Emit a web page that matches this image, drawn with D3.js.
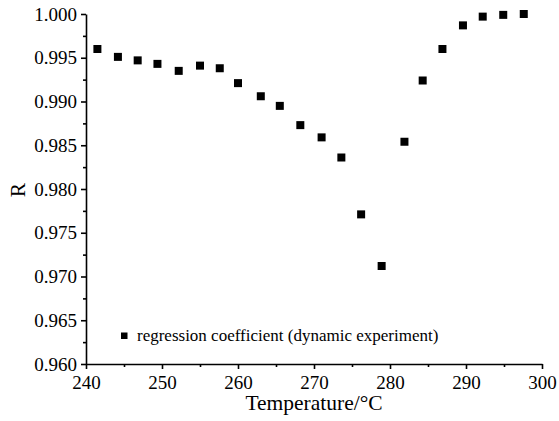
<!DOCTYPE html>
<html><head><meta charset="utf-8">
<script src="https://cdn.jsdelivr.net/npm/d3@7"></script>
<style>body{margin:0;background:#fff;} svg{display:block;} svg text{font-family:"Liberation Serif","Times New Roman",serif !important;}</style>
</head><body><svg id="c" width="559" height="421"></svg>
<script>
const temperature = [241.5,244.2,246.8,249.4,252.2,255.0,257.6,260.0,263.0,265.5,268.2,271.0,273.6,276.2,278.9,281.9,284.3,286.9,289.6,292.2,294.9,297.6];
const rValues = [0.9960,0.9951,0.9947,0.9943,0.9935,0.9941,0.9938,0.9921,0.9906,0.9895,0.9873,0.9859,0.9836,0.9771,0.9712,0.9854,0.9924,0.9960,0.9987,0.9997,0.9999,1.0000];
const xTicks = [240,250,260,270,280,290,300];
const yTicks = [0.960,0.965,0.970,0.975,0.980,0.985,0.990,0.995,1.000];
const seriesName = "regression coefficient (dynamic experiment)";

const svg = d3.select("#c");
const m = {l:86, r:17, t:14, b:57};
const W = 559, H = 421;
const x = d3.scaleLinear().domain([240,300]).range([m.l, W-m.r]);
const y = d3.scaleLinear().domain([0.960,1.000]).range([H-m.b, m.t]);

// minor ticks
const xMinor = d3.range(245,300,10);
const yMinor = d3.range(0,8).map(i=>0.9625+i*0.005);
svg.append("g").attr("transform",`translate(0,${y(0.96)})`)
  .call(d3.axisBottom(x).tickValues(xMinor).tickSize(3).tickFormat(""))
  .call(g=>g.select(".domain").remove());
svg.append("g").attr("transform",`translate(${x(240)},0)`)
  .call(d3.axisLeft(y).tickValues(yMinor).tickSize(3).tickFormat(""))
  .call(g=>g.select(".domain").remove());

const xa = svg.append("g").attr("transform",`translate(0,${y(0.96)})`)
  .call(d3.axisBottom(x).tickValues(xTicks).tickSize(5).tickSizeOuter(0).tickFormat(d3.format("d")));
const ya = svg.append("g").attr("transform",`translate(${x(240)},0)`)
  .call(d3.axisLeft(y).tickValues(yTicks).tickSize(5).tickSizeOuter(0).tickFormat(d3.format(".3f")));
xa.selectAll("text").attr("font-size",19).attr("dy","0.88em").attr("fill","#000");
ya.selectAll("text").attr("font-size",19).attr("x",-9).attr("fill","#000");
svg.selectAll(".domain, .tick line").attr("stroke","#000").attr("stroke-width",1.6);

svg.append("g").selectAll("rect").data(temperature).join("rect")
  .attr("x",(d,i)=>x(d)-4).attr("y",(d,i)=>y(rValues[i])-4)
  .attr("width",8).attr("height",8).attr("fill","#000");

svg.append("rect").attr("x",121).attr("y",332.5).attr("width",6.5).attr("height",6.5).attr("fill","#000");
svg.append("text").attr("x",137).attr("y",341).attr("font-size",17).text(seriesName);

svg.append("text").attr("x",(x(240)+x(300))/2).attr("y",410).attr("text-anchor","middle").attr("font-size",21.5).text("Temperature/°C");
svg.append("text").attr("transform",`translate(25,190) rotate(-90)`).attr("text-anchor","middle").attr("font-size",21.5).text("R");
</script></body></html>
